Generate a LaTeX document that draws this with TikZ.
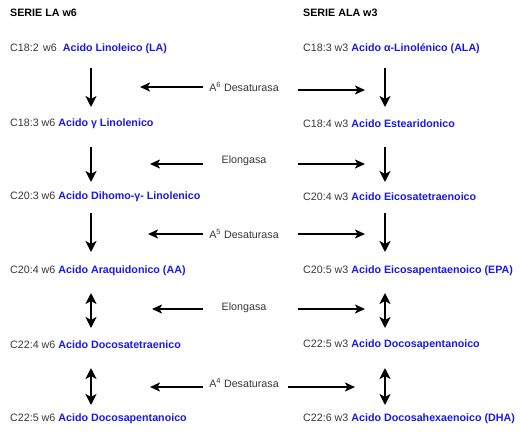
\documentclass[tikz,border=0pt]{standalone}
\usepackage{fontspec}
\setmainfont{Liberation Sans}
\usepackage{xcolor}
\usepackage{tikz}
\usetikzlibrary{arrows.meta}
\definecolor{gris}{rgb}{0.22, 0.22, 0.22}
\definecolor{azul}{rgb}{0.1, 0.1, 0.92}
\tikzstyle{titulo}=[anchor=west,inner sep=0pt,text=black,font=\fontsize{10.7}{13}\selectfont\bfseries]
\tikzstyle{fila}=[anchor=west,inner sep=0pt,text=gris,font=\fontsize{10.7}{13}\selectfont]
\tikzstyle{enz}=[inner sep=0pt,text=gris,font=\fontsize{10.7}{13}\selectfont]
\tikzstyle{vfl}=[line width=2.8pt,-{Stealth[length=11pt,width=11pt,inset=3pt]}]
\tikzstyle{dfl}=[line width=2.8pt,{Stealth[length=11pt,width=11pt,inset=3pt]}-{Stealth[length=11pt,width=11pt,inset=3pt]}]
\tikzstyle{hfl}=[line width=2pt,-{Stealth[length=10pt,width=9pt,inset=2.5pt]}]
\newcommand{\ac}[1]{\textbf{\color{azul}#1}}

\begin{document}
\begin{tikzpicture}[x=1pt,y=-1pt]
\useasboundingbox (0,0) rectangle (520,432);
\coordinate (colL) at (91,0);
\coordinate (colR) at (385,0);
\node[titulo] (hl) at (10,13) {SERIE LA w6};
\node[titulo] (hr) at (303,13) {SERIE ALA w3};
% serie w6
\node[fila] (l1) at (10,49) {C18:2\hspace{4.5pt}w6\hspace{6pt}\ac{Acido Linoleico (LA)}};
\node[fila] (l2) at (10,124) {C18:3 w6 \ac{Acido γ Linolenico}};
\node[fila] (l3) at (10,197) {C20:3 w6 \ac{Acido Dihomo-γ- Linolenico}};
\node[fila] (l4) at (10,271) {C20:4 w6 \ac{Acido Araquidonico (AA)}};
\node[fila] (l5) at (10,345) {C22:4 w6 \ac{Acido Docosatetraenico}};
\node[fila] (l6) at (10,419) {C22:5 w6 \ac{Acido Docosapentanoico}};
% serie w3
\node[fila] (r1) at (303,49) {C18:3 w3 \ac{Acido α-Linolénico (ALA)}};
\node[fila] (r2) at (303,124) {C18:4 w3 \ac{Acido Estearidonico}};
\node[fila] (r3) at (303,197) {C20:4 w3 \ac{Acido Eicosatetraenoico}};
\node[fila] (r4) at (303,271) {C20:5 w3 \ac{Acido Eicosapentaenoico (EPA)}};
\node[fila] (r5) at (303,345) {C22:5 w3 \ac{Acido Docosapentanoico}};
\node[fila] (r6) at (303,419) {C22:6 w3 \ac{Acido Docosahexaenoico (DHA)}};
% enzimas
\node[enz] (e1) at (244,87) {A\textsuperscript{6} Desaturasa};
\node[enz] (e2) at (244,161) {Elongasa};
\node[enz] (e3) at (244,234) {A\textsuperscript{5} Desaturasa};
\node[enz] (e4) at (244,308) {Elongasa};
\node[enz] (e5) at (244,383) {A\textsuperscript{4} Desaturasa};
\draw[hfl] ([xshift=-41pt]e1.center) -- ([xshift=-104pt]e1.center);
\draw[hfl] ([xshift=54pt,yshift=-3pt]e1.center) -- ([xshift=121pt,yshift=-3pt]e1.center);
\draw[hfl] ([xshift=-41pt,yshift=-3pt]e2.center) -- ([xshift=-94pt,yshift=-3pt]e2.center);
\draw[hfl] ([xshift=54pt,yshift=-3pt]e2.center) -- ([xshift=121pt,yshift=-3pt]e2.center);
\draw[hfl] ([xshift=-41pt]e3.center) -- ([xshift=-96pt]e3.center);
\draw[hfl] ([xshift=54pt]e3.center) -- ([xshift=121pt]e3.center);
\draw[hfl] ([xshift=-41pt,yshift=-1pt]e4.center) -- ([xshift=-92pt,yshift=-1pt]e4.center);
\draw[hfl] ([xshift=54pt,yshift=-1pt]e4.center) -- ([xshift=121pt,yshift=-1pt]e4.center);
\draw[hfl] ([xshift=-41pt,yshift=-4pt]e5.center) -- ([xshift=-94pt,yshift=-4pt]e5.center);
\draw[hfl] ([xshift=44pt,yshift=-4pt]e5.center) -- ([xshift=111pt,yshift=-4pt]e5.center);
% flechas verticales
\draw[vfl] ([yshift=-19pt]l1.center -| colL) -- ([yshift=17pt]l2.center -| colL);
\draw[vfl] ([yshift=-23pt]l2.center -| colL) -- ([yshift=15pt]l3.center -| colL);
\draw[vfl] ([yshift=-16pt]l3.center -| colL) -- ([yshift=19pt]l4.center -| colL);
\draw[dfl] ([yshift=-22pt]l4.center -| colL) -- ([yshift=17pt]l5.center -| colL);
\draw[dfl] ([yshift=-23pt]l5.center -| colL) -- ([yshift=14pt]l6.center -| colL);
\draw[vfl] ([yshift=-19pt]r1.center -| colR) -- ([yshift=17pt]r2.center -| colR);
\draw[vfl] ([yshift=-23pt]r2.center -| colR) -- ([yshift=15pt]r3.center -| colR);
\draw[vfl] ([yshift=-16pt]r3.center -| colR) -- ([yshift=19pt]r4.center -| colR);
\draw[dfl] ([yshift=-22pt]r4.center -| colR) -- ([yshift=17pt]r5.center -| colR);
\draw[dfl] ([yshift=-23pt]r5.center -| colR) -- ([yshift=14pt]r6.center -| colR);
\end{tikzpicture}
\end{document}
